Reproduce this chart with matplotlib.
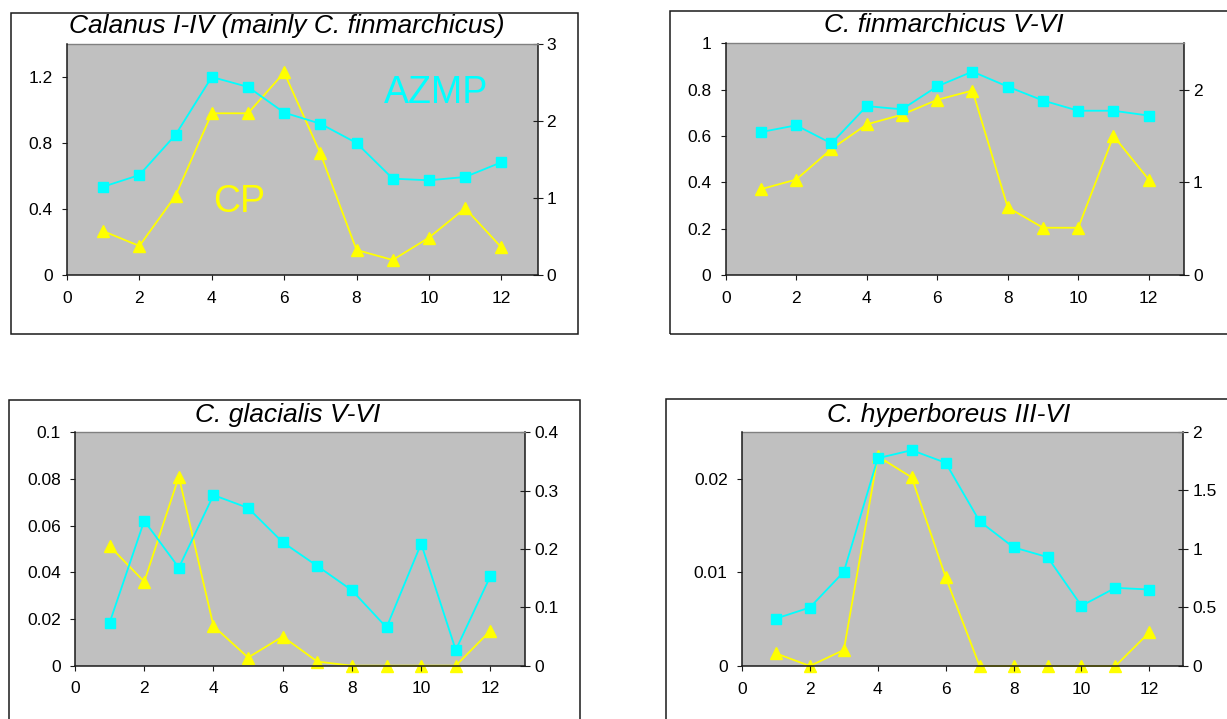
import matplotlib
matplotlib.use("Agg")
import matplotlib.pyplot as plt
from matplotlib.patches import Rectangle
from matplotlib.ticker import FuncFormatter

plt.rcParams['font.family'] = ['Liberation Sans', 'DejaVu Sans']

W, H = 1227, 719

months = [1, 2, 3, 4, 5, 6, 7, 8, 9, 10, 11, 12]
x_ticks = [0, 2, 4, 6, 8, 10, 12]

titles = ["Calanus I-IV (mainly C. finmarchicus)", "C. finmarchicus V-VI",
          "C. glacialis V-VI", "C. hyperboreus III-VI"]

calanus_azmp = [0.535, 0.606, 0.85, 1.20, 1.14, 0.984, 0.917, 0.80, 0.584, 0.574, 0.594, 0.683]
calanus_cp = [0.57, 0.377, 1.03, 2.10, 2.10, 2.63, 1.58, 0.325, 0.195, 0.485, 0.867, 0.36]

finm_azmp = [0.617, 0.646, 0.568, 0.729, 0.715, 0.814, 0.878, 0.813, 0.753, 0.709, 0.709, 0.688]
finm_cp = [0.926, 1.03, 1.36, 1.625, 1.73, 1.89, 1.99, 0.73, 0.51, 0.51, 1.50, 1.03]

glac_azmp = [0.0184, 0.0621, 0.042, 0.0731, 0.0676, 0.0529, 0.0427, 0.0323, 0.0164, 0.0523, 0.0067, 0.0384]
glac_cp = [0.205, 0.144, 0.324, 0.068, 0.014, 0.05, 0.007, 0.0, 0.0, 0.0, 0.0, 0.06]

hyper_azmp = [0.00506, 0.00624, 0.01005, 0.02217, 0.02303, 0.02168, 0.01544, 0.01266, 0.01162, 0.00642, 0.00834, 0.00816]
hyper_cp = [0.108, 0.0, 0.137, 1.79, 1.61, 0.757, 0.0, 0.0, 0.0, 0.0, 0.0, 0.287]

left_ticks = [[0, 0.4, 0.8, 1.2], [0, 0.2, 0.4, 0.6, 0.8, 1], [0, 0.02, 0.04, 0.06, 0.08, 0.1], [0, 0.01, 0.02]]
left_lims = [1.4, 1.0, 0.1, 0.025]
right_ticks = [[0, 1, 2, 3], [0, 1, 2], [0, 0.1, 0.2, 0.3, 0.4], [0, 0.5, 1, 1.5, 2]]
right_lims = [3, 2.5, 0.4, 2]

azmp_series = [calanus_azmp, finm_azmp, glac_azmp, hyper_azmp]
cp_series = [calanus_cp, finm_cp, glac_cp, hyper_cp]

# layout in pixels: plot area (l, t, r, b), outer box (l, t, r, b), title (cx, baseline)
plot_px = [(67, 44, 537.5, 275), (725.7, 43.3, 1184, 275),
           (75, 432.3, 525, 665.7), (742, 431.7, 1183.3, 666)]
box_px = [(10.7, 12.7, 578, 334), (669.6, 11, 1245, 334),
          (8.9, 400, 580, 740), (665.7, 399.3, 1245, 740)]
title_px = [(286.6, 33), (944, 32), (288, 421.7), (948.6, 421.7)]

CYAN = '#00FFFF'
YELLOW = '#FFFF00'
GRAY = '#C0C0C0'
DARK = '#1a1a1a'

fmt = FuncFormatter(lambda v, p: f"{v:g}")

fig = plt.figure(figsize=(W / 100, H / 100), dpi=100)

for i in range(4):
    l, t, r, b = box_px[i]
    fig.add_artist(Rectangle((l / W, 1 - b / H), (r - l) / W, (b - t) / H,
                             transform=fig.transFigure, fill=False,
                             edgecolor=DARK, linewidth=1.1, clip_on=False))
    l, t, r, b = plot_px[i]
    ax = fig.add_axes([l / W, 1 - b / H, (r - l) / W, (b - t) / H])
    ax2 = ax.twinx()
    ax.set_zorder(ax2.get_zorder() + 1)
    ax.patch.set_visible(False)
    ax2.patch.set_visible(True)
    ax2.patch.set_facecolor(GRAY)

    ax2.plot(months, cp_series[i], color=YELLOW, lw=1.3, marker='^', ms=8,
             mec=YELLOW, mfc=YELLOW, clip_on=False)
    ax.plot(months, azmp_series[i], color=CYAN, lw=1.3, marker='s', ms=6.8,
            mec=CYAN, mfc=CYAN, clip_on=False)

    ax.set_xlim(0, 13)
    ax.set_xticks(x_ticks)
    ax.set_ylim(0, left_lims[i])
    ax.set_yticks(left_ticks[i])
    ax2.set_ylim(0, right_lims[i])
    ax2.set_yticks(right_ticks[i])
    ax.yaxis.set_major_formatter(fmt)
    ax2.yaxis.set_major_formatter(fmt)

    for s in ['top', 'right']:
        ax.spines[s].set_visible(False)
    for s in ['left', 'bottom']:
        ax.spines[s].set_color(DARK)
        ax.spines[s].set_linewidth(1.1)
        ax2.spines[s].set_visible(False)
    ax2.spines['top'].set_color('#808080')
    ax2.spines['top'].set_linewidth(1.0)
    ax2.spines['right'].set_color(DARK)
    ax2.spines['right'].set_linewidth(1.1)

    ax.tick_params(axis='both', direction='out', length=3.3, width=0.8,
                   color=DARK, labelsize=12.5, pad=7)
    ax.tick_params(axis='x', pad=8)
    ax2.tick_params(axis='y', direction='inout', length=7, width=0.8,
                    color=DARK, labelsize=12.5, pad=3)

    cx, base = title_px[i]
    fig.text(cx / W, 1 - base / H, titles[i], ha='center', va='baseline',
             fontsize=19, style='italic')

    if i == 0:
        ax.text(10.2, 1.106, "AZMP", color=CYAN, fontsize=27, ha='center', va='center')
        ax.text(4.75, 0.444, "CP", color=YELLOW, fontsize=27, ha='center', va='center')

fig.savefig("out.png", dpi=100)
